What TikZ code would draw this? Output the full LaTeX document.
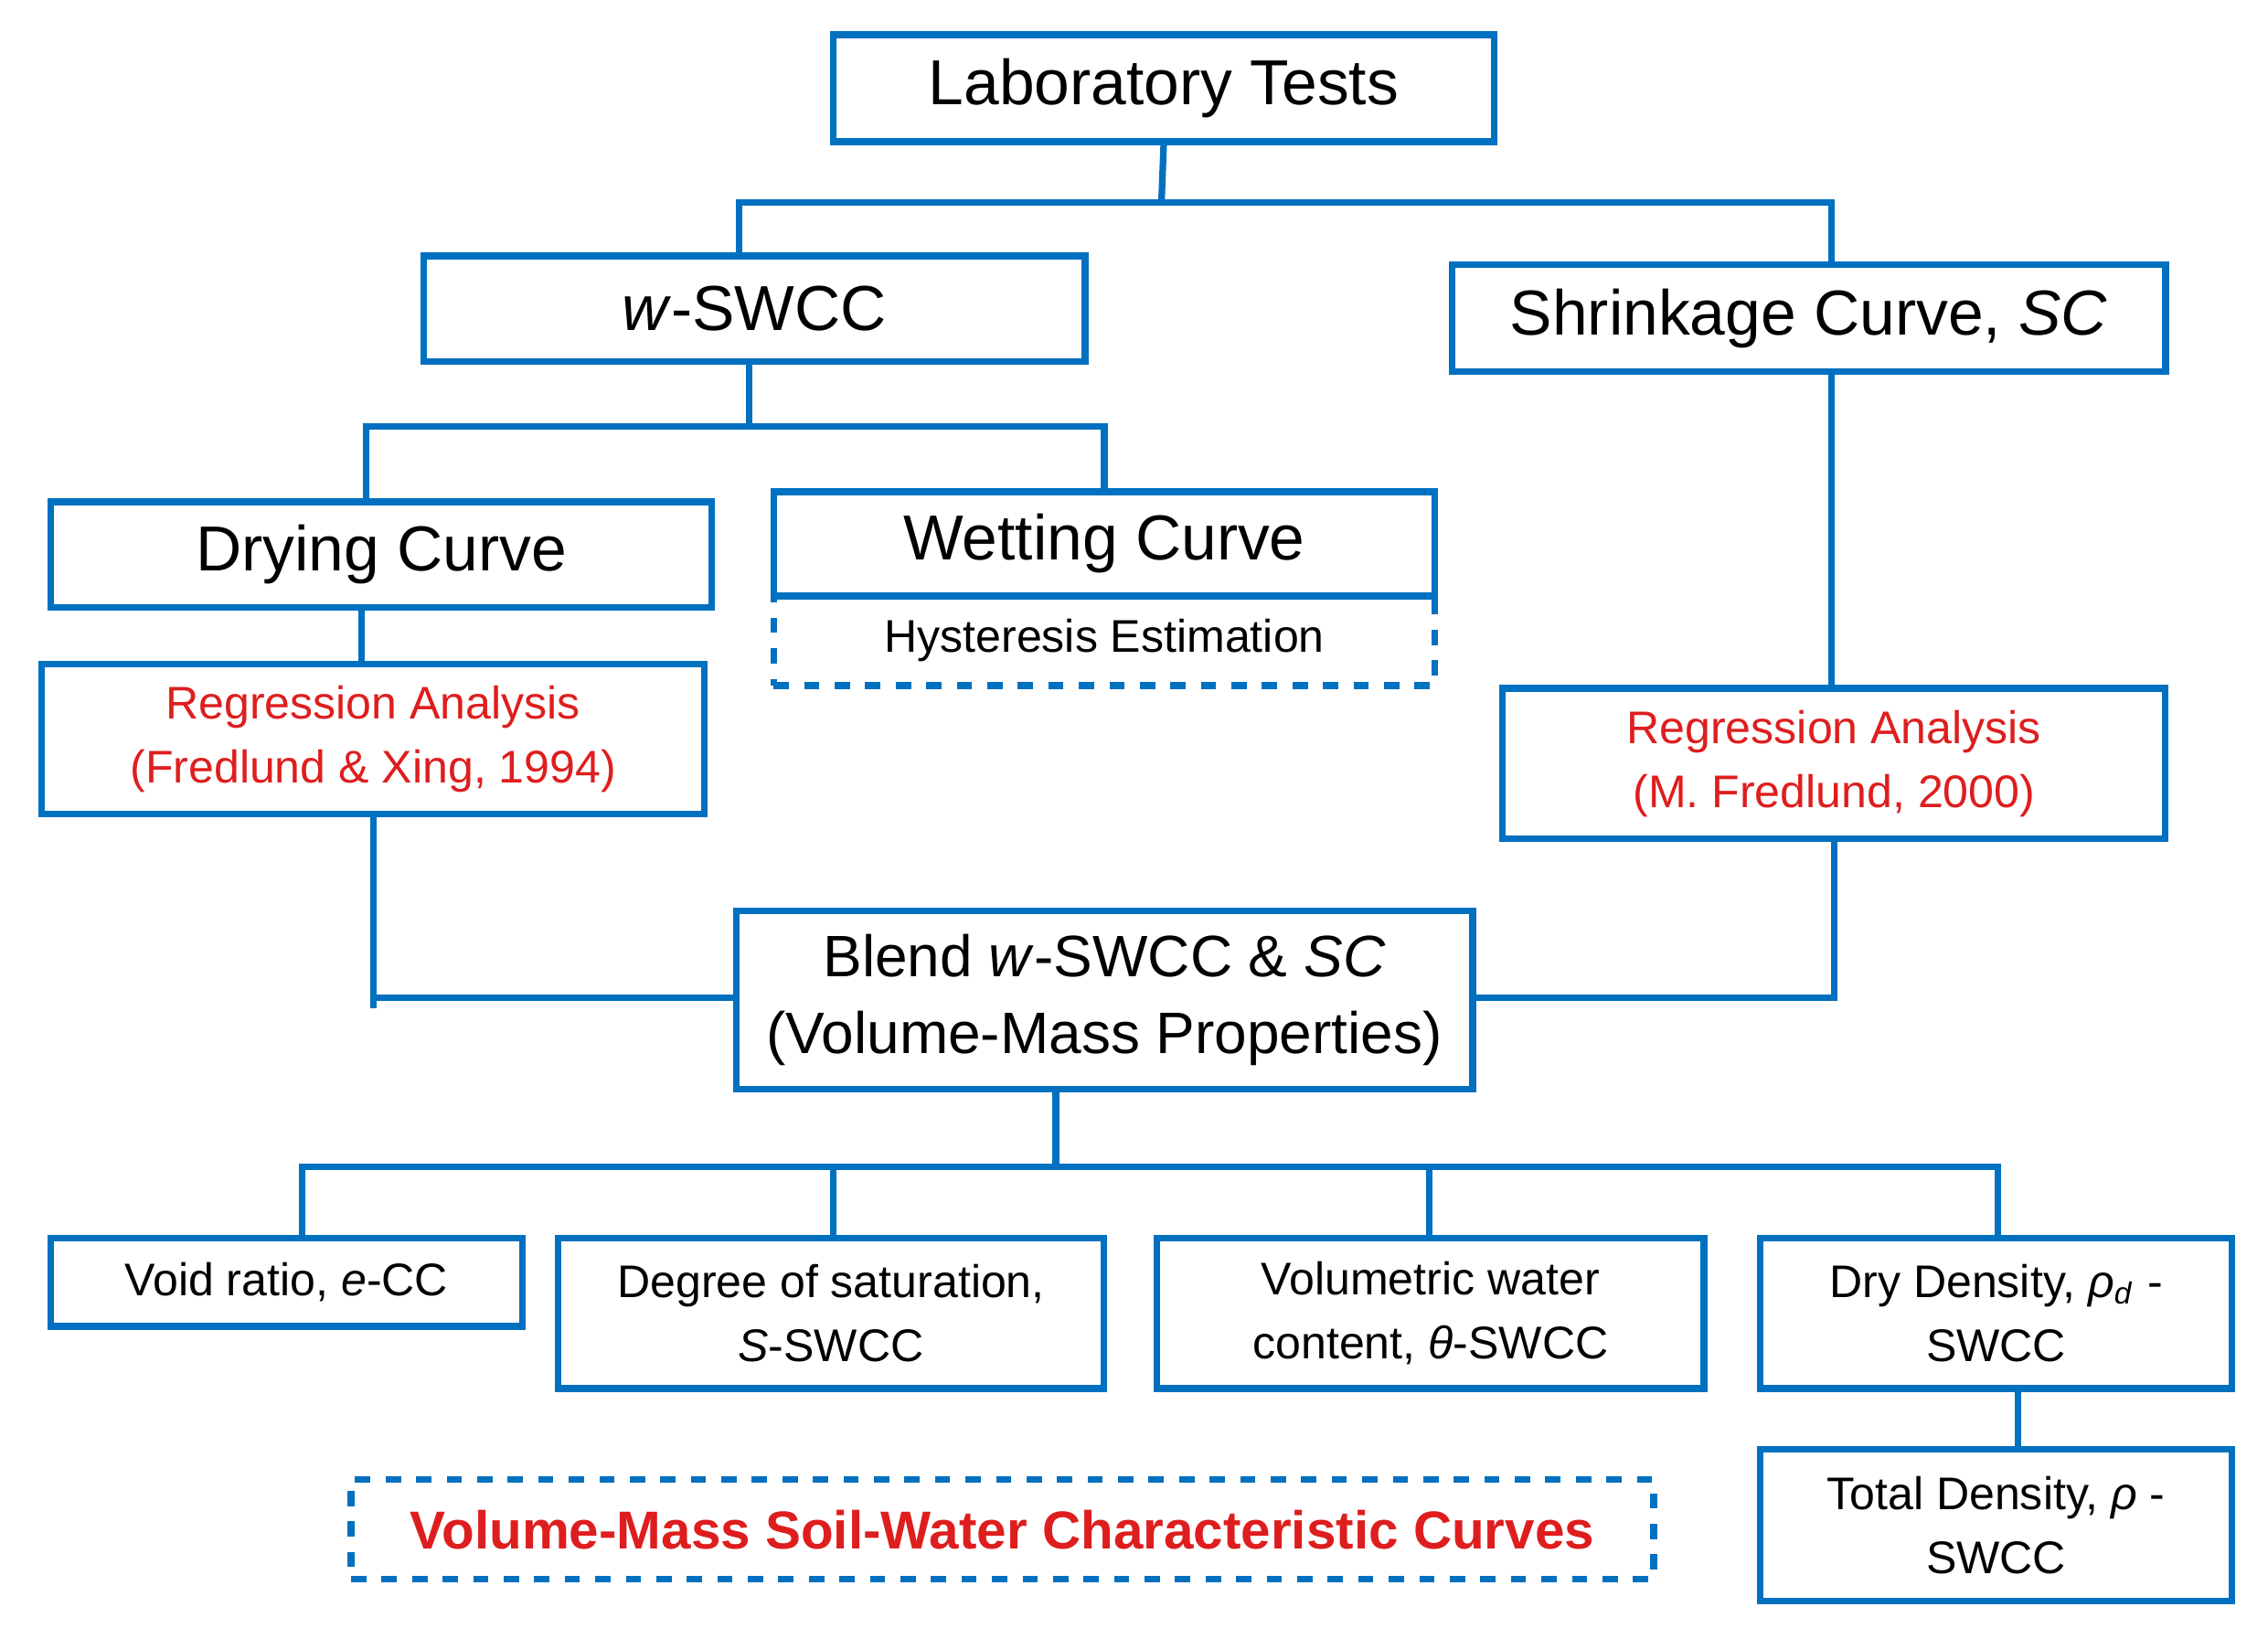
\documentclass[tikz,border=0pt]{standalone}
\usepackage{fontspec}
\setmainfont{Liberation Sans}
\begin{document}
\begin{tikzpicture}[x=0.01cm,y=-0.01cm,
  bl/.style={draw=myblue,line width=1.3pt},
  box/.style={bl,rectangle,inner sep=0pt,align=center,text=black},
  big/.style={font=\fontsize{12.5}{15}\selectfont},
  sm/.style={font=\fontsize{9}{12.5}\selectfont},
  red/.style={text=myred}]
\definecolor{myblue}{RGB}{0,112,192}
\definecolor{myred}{RGB}{222,30,30}
\useasboundingbox (0,0) rectangle (1568,1125);
\node[box,big,minimum width=4.57cm,minimum height=0.74cm] (lab) at (804.5,61) {Laboratory Tests};
\node[box,big,minimum width=4.57cm,minimum height=0.73cm] (w) at (521.5,213.5) {\textit{w}-SWCC};
\node[box,big,minimum width=4.93cm,minimum height=0.74cm] (sc) at (1250.5,220) {Shrinkage Curve, \textit{SC}};
\node[box,big,minimum width=4.57cm,minimum height=0.73cm] (dry) at (263.5,383.5) {Drying Curve};
\node[box,big,minimum width=4.57cm,minimum height=0.72cm] (wet) at (763.5,376) {Wetting Curve};
\node[box,sm,dashed,minimum width=4.57cm,minimum height=0.62cm] (hys) at (763.5,443) {Hysteresis Estimation};
\node[box,sm,red,minimum width=4.58cm,minimum height=1.04cm] (rl) at (258,511) {Regression Analysis\\(Fredlund \& Xing, 1994)};
\node[box,sm,red,minimum width=4.58cm,minimum height=1.04cm] (rr) at (1268,528) {Regression Analysis\\(M. Fredlund, 2000)};
\node[box,font=\fontsize{11.5}{15}\selectfont,minimum width=5.09cm,minimum height=1.23cm] (bl) at (763.5,691.5) {Blend \textit{w}-SWCC \& \textit{SC}\\(Volume-Mass Properties)};
\node[box,sm,minimum width=3.26cm,minimum height=0.61cm] (v) at (198,886.5) {Void ratio, \textit{e}-CC};
\node[box,sm,minimum width=3.77cm,minimum height=1.04cm] (d) at (574.5,908) {Degree of saturation,\\\textit{S}-SWCC};
\node[box,sm,minimum width=3.78cm,minimum height=1.04cm] (vw) at (989,908) {Volumetric water\\content, \textit{θ}-SWCC};
\node[box,sm,minimum width=3.26cm,minimum height=1.04cm] (dd) at (1380,908) {Dry Density, \textit{ρ}\textsubscript{\textit{d}} -\\SWCC};
\node[box,sm,minimum width=3.26cm,minimum height=1.05cm] (td) at (1380,1054.5) {Total Density, \textit{ρ} -\\SWCC};
\node[box,dashed,red,font=\fontsize{10.5}{13}\selectfont\bfseries,minimum width=9.0cm,minimum height=0.69cm] (vm) at (693,1057.5) {Volume-Mass Soil-Water Characteristic Curves};
% connectors
\coordinate (j1) at (803,140);
\draw[bl] (lab.south) -- (j1);
\draw[bl] (w.north -| 511,0) |- (j1) -| (sc.north -| 1266,0);
\coordinate (j2) at (518,295);
\draw[bl] (w.south -| j2) -- (j2);
\draw[bl] (dry.north -| 253,0) |- (j2) -| (wet.north);
\draw[bl] (dry.south -| 250,0) -- (rl.north -| 250,0);
\draw[bl] (sc.south -| 1266,0) -- (rr.north -| 1266,0);
\coordinate (jl) at (258,697);
\draw[bl] (rl.south) -- (jl);
\draw[bl] (258,690) -- (bl.west |- 0,690);
\draw[bl] (rr.south) |- (bl.east |- 0,690);
\coordinate (j3) at (730,807);
\draw[bl] (bl.south -| j3) -- (j3);
\draw[bl] (v.north -| 209,0) |- (j3) -| (dd.north -| 1381,0);
\draw[bl] (d.north -| 576,0) -- (576,807);
\draw[bl] (vw.north -| 988,0) -- (988,807);
\draw[bl] (dd.south -| 1395,0) -- (td.north -| 1395,0);
\end{tikzpicture}
\end{document}
